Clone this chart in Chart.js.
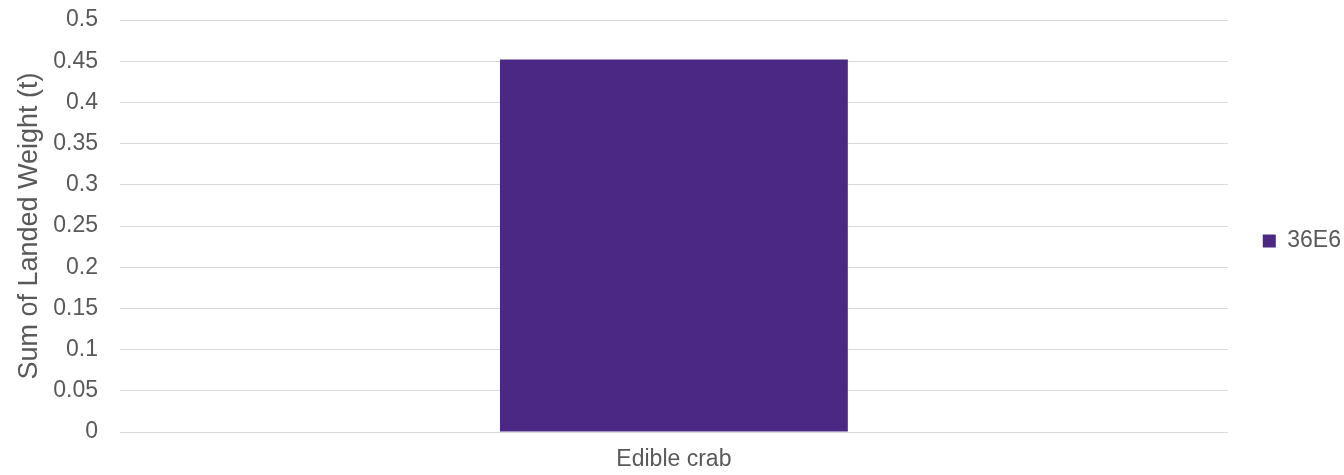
<!DOCTYPE html>
<html>
<head>
<meta charset="utf-8">
<script src="https://cdn.jsdelivr.net/npm/chart.js@4/dist/chart.umd.min.js"></script>
<style>
html,body{margin:0;padding:0;background:#fff;}
#wrap{width:1344px;height:475px;}
</style>
</head>
<body>
<div id="wrap"><canvas id="c" width="1344" height="475"></canvas></div>
<script>
const categories = ["Edible crab"];
const seriesName = "36E6";
const seriesValues = [0.452];
const yTickLabels = ["0","0.05","0.1","0.15","0.2","0.25","0.3","0.35","0.4","0.45","0.5"];
const yTitle = "Sum of Landed Weight (t)";

const textColor = "#595959";
const fontFamily = "'Liberation Sans', Arial, sans-serif";

new Chart(document.getElementById('c'), {
  type: 'bar',
  data: {
    labels: categories,
    datasets: [{
      label: seriesName,
      data: seriesValues,
      backgroundColor: '#4B2884',
      borderWidth: 0,
      categoryPercentage: 1,
      barPercentage: 0.314
    }]
  },
  options: {
    responsive: false,
    animation: false,
    layout: { padding: { top: 7, right: -7, bottom: 0, left: 0 } },
    plugins: {
      legend: {
        position: 'right',
        labels: {
          boxWidth: 13, boxHeight: 13, padding: 35,
          color: textColor,
          font: { family: fontFamily, size: 23 }
        }
      },
      tooltip: { enabled: false }
    },
    scales: {
      x: {
        afterFit: (s) => { s.height = 43; },
        grid: { display: false, drawTicks: false },
        border: { display: false },
        ticks: { color: textColor, padding: 14, font: { family: fontFamily, size: 23 } }
      },
      y: {
        min: 0, max: 0.5,
        afterFit: (s) => { s.width = 120; s.paddingTop = 20; s.paddingBottom = 0; },
        grid: { color: '#d9d9d9', lineWidth: 1, drawTicks: false },
        border: { display: false },
        ticks: {
          stepSize: 0.05,
          padding: 22,
          color: textColor,
          font: { family: fontFamily, size: 23 },
          callback: (v, i) => yTickLabels[i]
        },
        title: {
          display: true,
          text: yTitle,
          color: textColor,
          padding: { top: 13, bottom: 0 },
          font: { family: fontFamily, size: 27 }
        }
      }
    }
  }
});
</script>
</body>
</html>
